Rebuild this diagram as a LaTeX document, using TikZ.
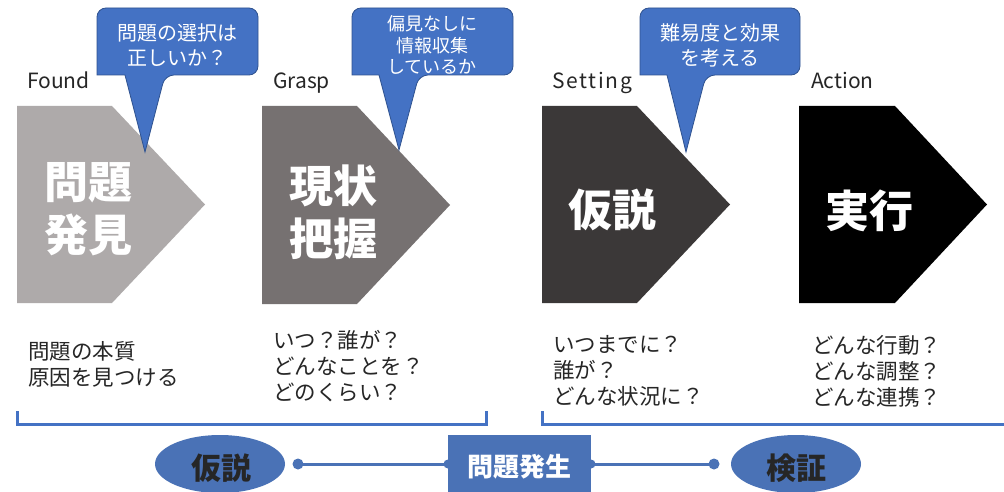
\documentclass[tikz,border=0pt]{standalone}
\usepackage{fontspec}
\setmainfont{Noto Sans CJK JP}
\usetikzlibrary{shapes.geometric}
\definecolor{cA}{HTML}{AEAAAA}
\definecolor{cB}{HTML}{767171}
\definecolor{cC}{HTML}{3B3838}
\definecolor{cD}{HTML}{000000}
\definecolor{bl}{HTML}{4472C4}
\definecolor{blb}{HTML}{4A72B6}
\definecolor{bldark}{HTML}{2F528F}
\definecolor{txt}{HTML}{262626}
\tikzset{
  chevtext/.style={text=white,font=\bfseries\fontsize{44}{53}\selectfont,align=center,inner sep=0},
  stagelabel/.style={anchor=base west,text=txt,font=\fontsize{21}{24}\selectfont,inner sep=0},
  qtext/.style={anchor=west,text=txt,font=\fontsize{21.5}{26}\selectfont,align=left,inner sep=0},
  calltext/.style={text=white,align=center,inner sep=0},
  callout/.style={fill=bl,draw=bldark,line width=0.8pt},
  bracket/.style={draw=bl,line width=3pt},
  conn/.style={draw=blb,line width=3pt},
  oval/.style={ellipse,fill=blb,minimum width=130,minimum height=58,inner sep=0,
     text=txt,font=\bfseries\fontsize{30}{34}\selectfont},
}
\begin{document}
\begin{tikzpicture}[x=1pt,y=-1pt]
\useasboundingbox (0,0) rectangle (1004,492);
\clip (0,0) rectangle (1004,492);
\fill[white] (0,0) rectangle (1004,492);

% chevrons
\fill[cA] (17,106) -- (112,106) -- (205,204.5) -- (112,303) -- (17,303) -- cycle;
\fill[cB] (262,106) -- (357,106) -- (450,205) -- (357,304) -- (262,304) -- cycle;
\fill[cC] (542,106) -- (637,106) -- (730,204.5) -- (637,303) -- (542,303) -- cycle;
\fill[cD] (799,106) -- (895,106) -- (987,204.5) -- (895,303) -- (799,303) -- cycle;

\node[chevtext] (t1) at (88,209) {問題\\発見};
\node[chevtext] (t2) at (333,212) {現状\\把握};
\node[chevtext] (t3) at (612,210) {仮説};
\node[chevtext] (t4) at (869,211) {実行};

% stage labels
\node[stagelabel] (l1) at (27,89) {Found};
\node[stagelabel] (l2) at (273,89) {Grasp};
\node[stagelabel,font=\fontsize{21}{24}\selectfont\addfontfeatures{LetterSpace=8}] (l3) at (552,89) {Setting};
\node[stagelabel] (l4) at (811,89) {Action};

% callouts
\draw[callout] (177,8) [rounded corners=9] -- (258,8) -- (258,75) -- (165,75) [sharp corners] -- (145,152) -- (125,75) -- (97,75) [rounded corners=9] -- (97,8) -- cycle;
\node[calltext,font=\fontsize{20}{25}\selectfont] (c1) at (177,45) {問題の選択は\\正しいか？};

\draw[callout] (432,8) [rounded corners=9] -- (513,8) -- (513,75) -- (419,75) [sharp corners] -- (399,150) -- (379,75) -- (352,75) [rounded corners=9] -- (352,8) -- cycle;
\node[calltext,font=\fontsize{18}{21.5}\selectfont] (c2) at (432,45) {偏見なしに\\情報収集\\しているか};

\draw[callout] (720,8) [rounded corners=9] -- (800,8) -- (800,75) -- (706,75) [sharp corners] -- (686,152) -- (667,75) -- (640,75) [rounded corners=9] -- (640,8) -- cycle;
\node[calltext,font=\fontsize{20}{25}\selectfont] (c3) at (720,45) {難易度と効果\\を考える};

% question texts
\node[qtext] (q1) at (28,364) {問題の本質\\原因を見つける};
\node[qtext] (q2) at (273,366) {いつ？誰が？\\どんなことを？\\どのくらい？};
\node[qtext] (q3) at (553,371) {いつまでに？\\誰が？\\どんな状況に？};
\node[qtext] (q4) at (812,371) {どんな行動？\\どんな調整？\\どんな連携？};

% brackets
\coordinate (b1a) at (17,411);
\coordinate (b1b) at (486,411);
\coordinate (b2a) at (542,411);
\coordinate (b2b) at (1010,424);
\draw[bracket] (b1a) -- (b1a |- 0,424) -- (b1b |- 0,424) -- (b1b);
\draw[bracket] (b2a) -- (b2a |- 0,424) -- (b2b);

% bottom flow
\coordinate (d1) at (298,464);
\coordinate (d2) at (714,464);
\coordinate (ow) at (448,464);
\coordinate (oe) at (591,464);
\draw[conn] (d1) -- (ow);
\draw[conn] (oe) -- (d2);
\fill[blb] (d1) circle (5.5);
\fill[blb] (d2) circle (5.5);
\fill[blb] (ow) circle (4.5);
\fill[blb] (oe) circle (4.5);
\node[fill=blb,minimum width=143,minimum height=62,inner sep=0,anchor=north west] (occ) at (448,435) {};
\node[text=white,font=\bfseries\fontsize{26}{30}\selectfont,inner sep=0] (occt) at (519.5,466.5) {問題発生};
\node[oval] (hyp) at (220,464) {};
\node[text=txt,font=\bfseries\fontsize{30}{34}\selectfont,inner sep=0] (hypt) at (221,468) {仮説};
\node[oval] (ver) at (796,464) {};
\node[text=txt,font=\bfseries\fontsize{30}{34}\selectfont,inner sep=0] (vert) at (796,468) {検証};
\end{tikzpicture}
\end{document}
